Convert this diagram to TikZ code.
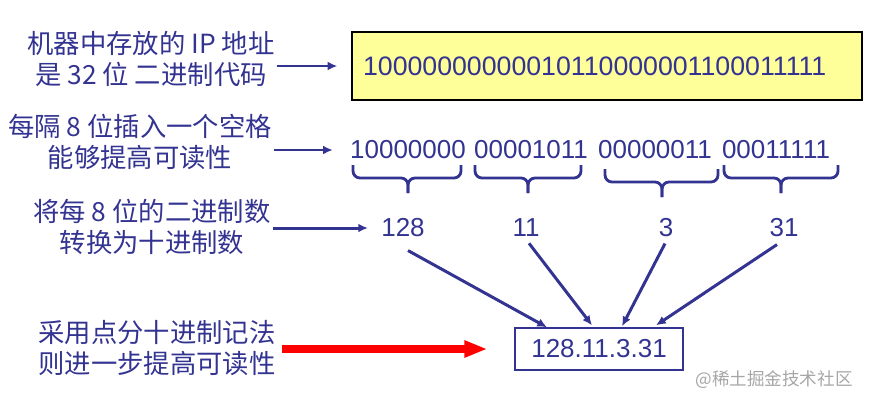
\documentclass[tikz,border=0pt]{standalone}
\usepackage{fontspec}
\setmainfont{Liberation Sans}
\newfontfamily\cjk{Noto Sans CJK SC}
\usetikzlibrary{arrows.meta,calc}
\definecolor{navy}{RGB}{51,51,145}
\definecolor{paleyellow}{RGB}{255,255,153}
\tikzset{
	note/.style={align=center, font=\cjk\fontsize{15pt}{17.5pt}\selectfont, inner sep=1pt},
	num/.style={font=\fontsize{14.8pt}{17pt}\selectfont, inner sep=0pt},
	arr/.style={->, navy, line width=1.7pt},
	bigarr/.style={-{Triangle[length=13pt,width=9pt]}, red, line width=4.5pt},
	brc/.style={navy, line width=1.6pt, rounded corners=4pt},
}

\begin{document}
\begin{tikzpicture}[x=0.02cm, y=-0.02cm, every node/.style={text=navy}, >={Latex[length=5.5pt,width=5pt]}]
	\useasboundingbox (0,0) rectangle (871,403);

	% notes on the left
	\node[note] (t1) at (151, 59) {机器中存放的 IP 地址\\是 32 位 二进制代码};
	\node[note] (t2) at (140, 142) {每隔 8 位插入一个空格\\能够提高可读性};
	\node[note] (t3) at (152, 227) {将每 8 位的二进制数\\转换为十进制数};
	\node[note] (t4) at (157, 348) {采用点分十进制记法\\则进一步提高可读性};

	\node[draw=black, fill=paleyellow, line width=0.8pt, font=\fontsize{15.2pt}{17pt}\selectfont,
		minimum width=10.2cm, minimum height=1.36cm, text width=9.76cm, inner xsep=0.22cm, align=left] (bits) at (607, 66) {10000000000010110000001100011111};

	\node[num] (g1) at (408, 150) {10000000};
	\node[num] (g2) at (531, 150) {00001011};
	\node[num] (g3) at (655, 150) {00000011};
	\node[num] (g4) at (776, 150) {00011111};

	\foreach \l/\r/\m/\y in {353/461/408/165, 475/581/528/165, 605/718/662/169, 724/838/781/165}{
		\draw[brc] (\l,\y) |- (\m,\y+13) -- (\m,\y+28);
		\draw[brc] (\r,\y) |- (\m,\y+13) -- (\m,\y+28);
	}

	\node[num] (d1) at (403, 228) {128};
	\node[num] (d2) at (526, 228) {11};
	\node[num] (d3) at (666, 228) {3};
	\node[num] (d4) at (784, 228) {31};

	\node[draw=navy, line width=0.8pt, font=\fontsize{14.8pt}{17pt}\selectfont,
		minimum width=3.36cm, minimum height=0.84cm] (dot) at (599, 349) {128.11.3.31};

	\node[text=gray!70, font=\cjk\fontsize{10pt}{12pt}\selectfont] (mark) at (774, 380) {@稀土掘金技术社区};

	\draw[arr, shorten >=0.28cm] (t1.east |- bits.west) -- (bits.west);
	\draw[arr, shorten >=0.34cm] (t2.east |- g1.west) -- (g1.west);
	\draw[arr, shorten >=0.26cm] (t3.east |- d1.west) -- (d1.west);
	\draw[bigarr, shorten <=0.08cm, shorten >=0.54cm] (t4.east |- dot.west) -- (dot.west);

	\draw[arr] ($(d1.south)+(5,13)$) -- ($(dot.north)+(-52,0)$);
	\draw[arr] ($(d2.south)+(3,6)$) -- ($(dot.north)+(-7,-2)$);
	\draw[arr] ($(d3.south)+(-1,6)$) -- ($(dot.north)+(23,-1)$);
	\draw[arr] ($(d4.south)+(-7,7)$) -- ($(dot.north)+(57,-2)$);
\end{tikzpicture}
\end{document}
